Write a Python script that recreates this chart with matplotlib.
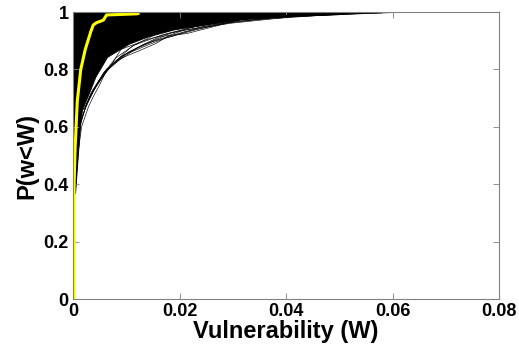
import matplotlib
matplotlib.use("Agg")
import matplotlib.pyplot as plt

# solid black band of curves: boundary of the dense region (x at each y)
band_y = [0.37, 0.45, 0.55, 0.62, 0.66, 0.705, 0.775, 0.844, 0.89, 0.915, 0.94, 0.96, 0.975, 0.985, 0.993, 1.0]
band_x = [0.0004, 0.0007, 0.0011, 0.0014, 0.0017, 0.0027, 0.0042, 0.0064, 0.0105, 0.014, 0.019, 0.026, 0.031, 0.040, 0.050, 0.053]

# individual outer curves
strands = [
    ([0.0004, 0.0009, 0.0016, 0.0029, 0.0038, 0.0051, 0.0063, 0.0082, 0.012, 0.0155, 0.0182, 0.022, 0.028, 0.036, 0.050, 0.061],
     [0.37, 0.5, 0.6, 0.67, 0.705, 0.75, 0.798, 0.833, 0.862, 0.89, 0.92, 0.945, 0.97, 0.985, 0.995, 1.0]),
    ([0.0012, 0.0025, 0.0042, 0.0060, 0.0085, 0.0120, 0.0163, 0.0213, 0.0314, 0.045, 0.060],
     [0.60, 0.68, 0.74, 0.79, 0.83, 0.875, 0.915, 0.925, 0.973, 0.99, 0.998]),
    ([0.0015, 0.0030, 0.0050, 0.0075, 0.011, 0.016, 0.0257, 0.035, 0.052, 0.0614],
     [0.62, 0.70, 0.76, 0.82, 0.88, 0.927, 0.967, 0.985, 0.994, 1.0]),
    ([0.0010, 0.0022, 0.0045, 0.0070, 0.009, 0.014, 0.020, 0.030, 0.042, 0.058],
     [0.58, 0.66, 0.75, 0.81, 0.87, 0.905, 0.935, 0.962, 0.985, 0.997]),
    ([0.0020, 0.0040, 0.0065, 0.010, 0.0135, 0.019, 0.024, 0.033, 0.047],
     [0.66, 0.73, 0.80, 0.855, 0.89, 0.918, 0.948, 0.978, 0.992]),
    ([0.0025, 0.0048, 0.0072, 0.0105, 0.015, 0.0185, 0.027, 0.038, 0.055],
     [0.68, 0.76, 0.815, 0.862, 0.90, 0.928, 0.958, 0.982, 0.996]),
    ([0.0018, 0.0034, 0.0055, 0.0080, 0.0115, 0.017, 0.023, 0.032, 0.044],
     [0.64, 0.72, 0.78, 0.84, 0.885, 0.922, 0.950, 0.975, 0.990]),
    ([0.0030, 0.0058, 0.0090, 0.0125, 0.0160, 0.0210, 0.029, 0.040],
     [0.70, 0.79, 0.845, 0.878, 0.905, 0.932, 0.962, 0.986]),
    ([0.0035, 0.0062, 0.0095, 0.0140, 0.0175, 0.0230, 0.0300, 0.050],
     [0.72, 0.80, 0.850, 0.885, 0.910, 0.938, 0.968, 0.993]),
]

# highlighted curve
yel_x = [0.0, 0.0002, 0.0002, 0.0004, 0.0008, 0.00145, 0.0023, 0.0033, 0.0038, 0.0044, 0.0057, 0.0063, 0.012, 0.0122]
yel_y = [0.0, 0.0, 0.40, 0.53, 0.69, 0.80, 0.87, 0.93, 0.955, 0.963, 0.972, 0.99, 0.994, 0.995]

xticks = [0, 0.02, 0.04, 0.06, 0.08]
xtick_labels = ["0", "0.02", "0.04", "0.06", "0.08"]
yticks = [0, 0.2, 0.4, 0.6, 0.8, 1]
ytick_labels = ["0", "0.2", "0.4", "0.6", "0.8", "1"]

plt.rcParams["font.family"] = ["Liberation Sans", "DejaVu Sans"]

fig = plt.figure(figsize=(5.19, 3.56), dpi=100)
ax = fig.add_axes([0.1407, 0.160, 0.8208, 0.806])

ax.fill_betweenx(band_y, 0, band_x, color="black", linewidth=0.6)
for sx, sy in strands:
    ax.plot(sx, sy, color="black", linewidth=0.45)
ax.plot(yel_x, yel_y, color="#ffff00", linewidth=2.2, solid_joinstyle="round")

ax.set_xlim(0, 0.08)
ax.set_ylim(0, 1)
ax.set_xticks(xticks)
ax.set_xticklabels(xtick_labels)
ax.set_yticks(yticks)
ax.set_yticklabels(ytick_labels)

for s in ax.spines.values():
    s.set_color("#808080")
    s.set_linewidth(0.8)
ax.tick_params(direction="in", length=4, width=0.6, color="#808080",
               top=True, right=True, labelsize=13, pad=3)
for lab in ax.get_xticklabels() + ax.get_yticklabels():
    lab.set_fontweight("bold")

ax.set_xlabel("Vulnerability (W)", fontsize=17, fontweight="bold", labelpad=0)
ax.set_ylabel("P(w<W)", fontsize=17, fontweight="bold", labelpad=4)

fig.savefig("out.png", dpi=100)
